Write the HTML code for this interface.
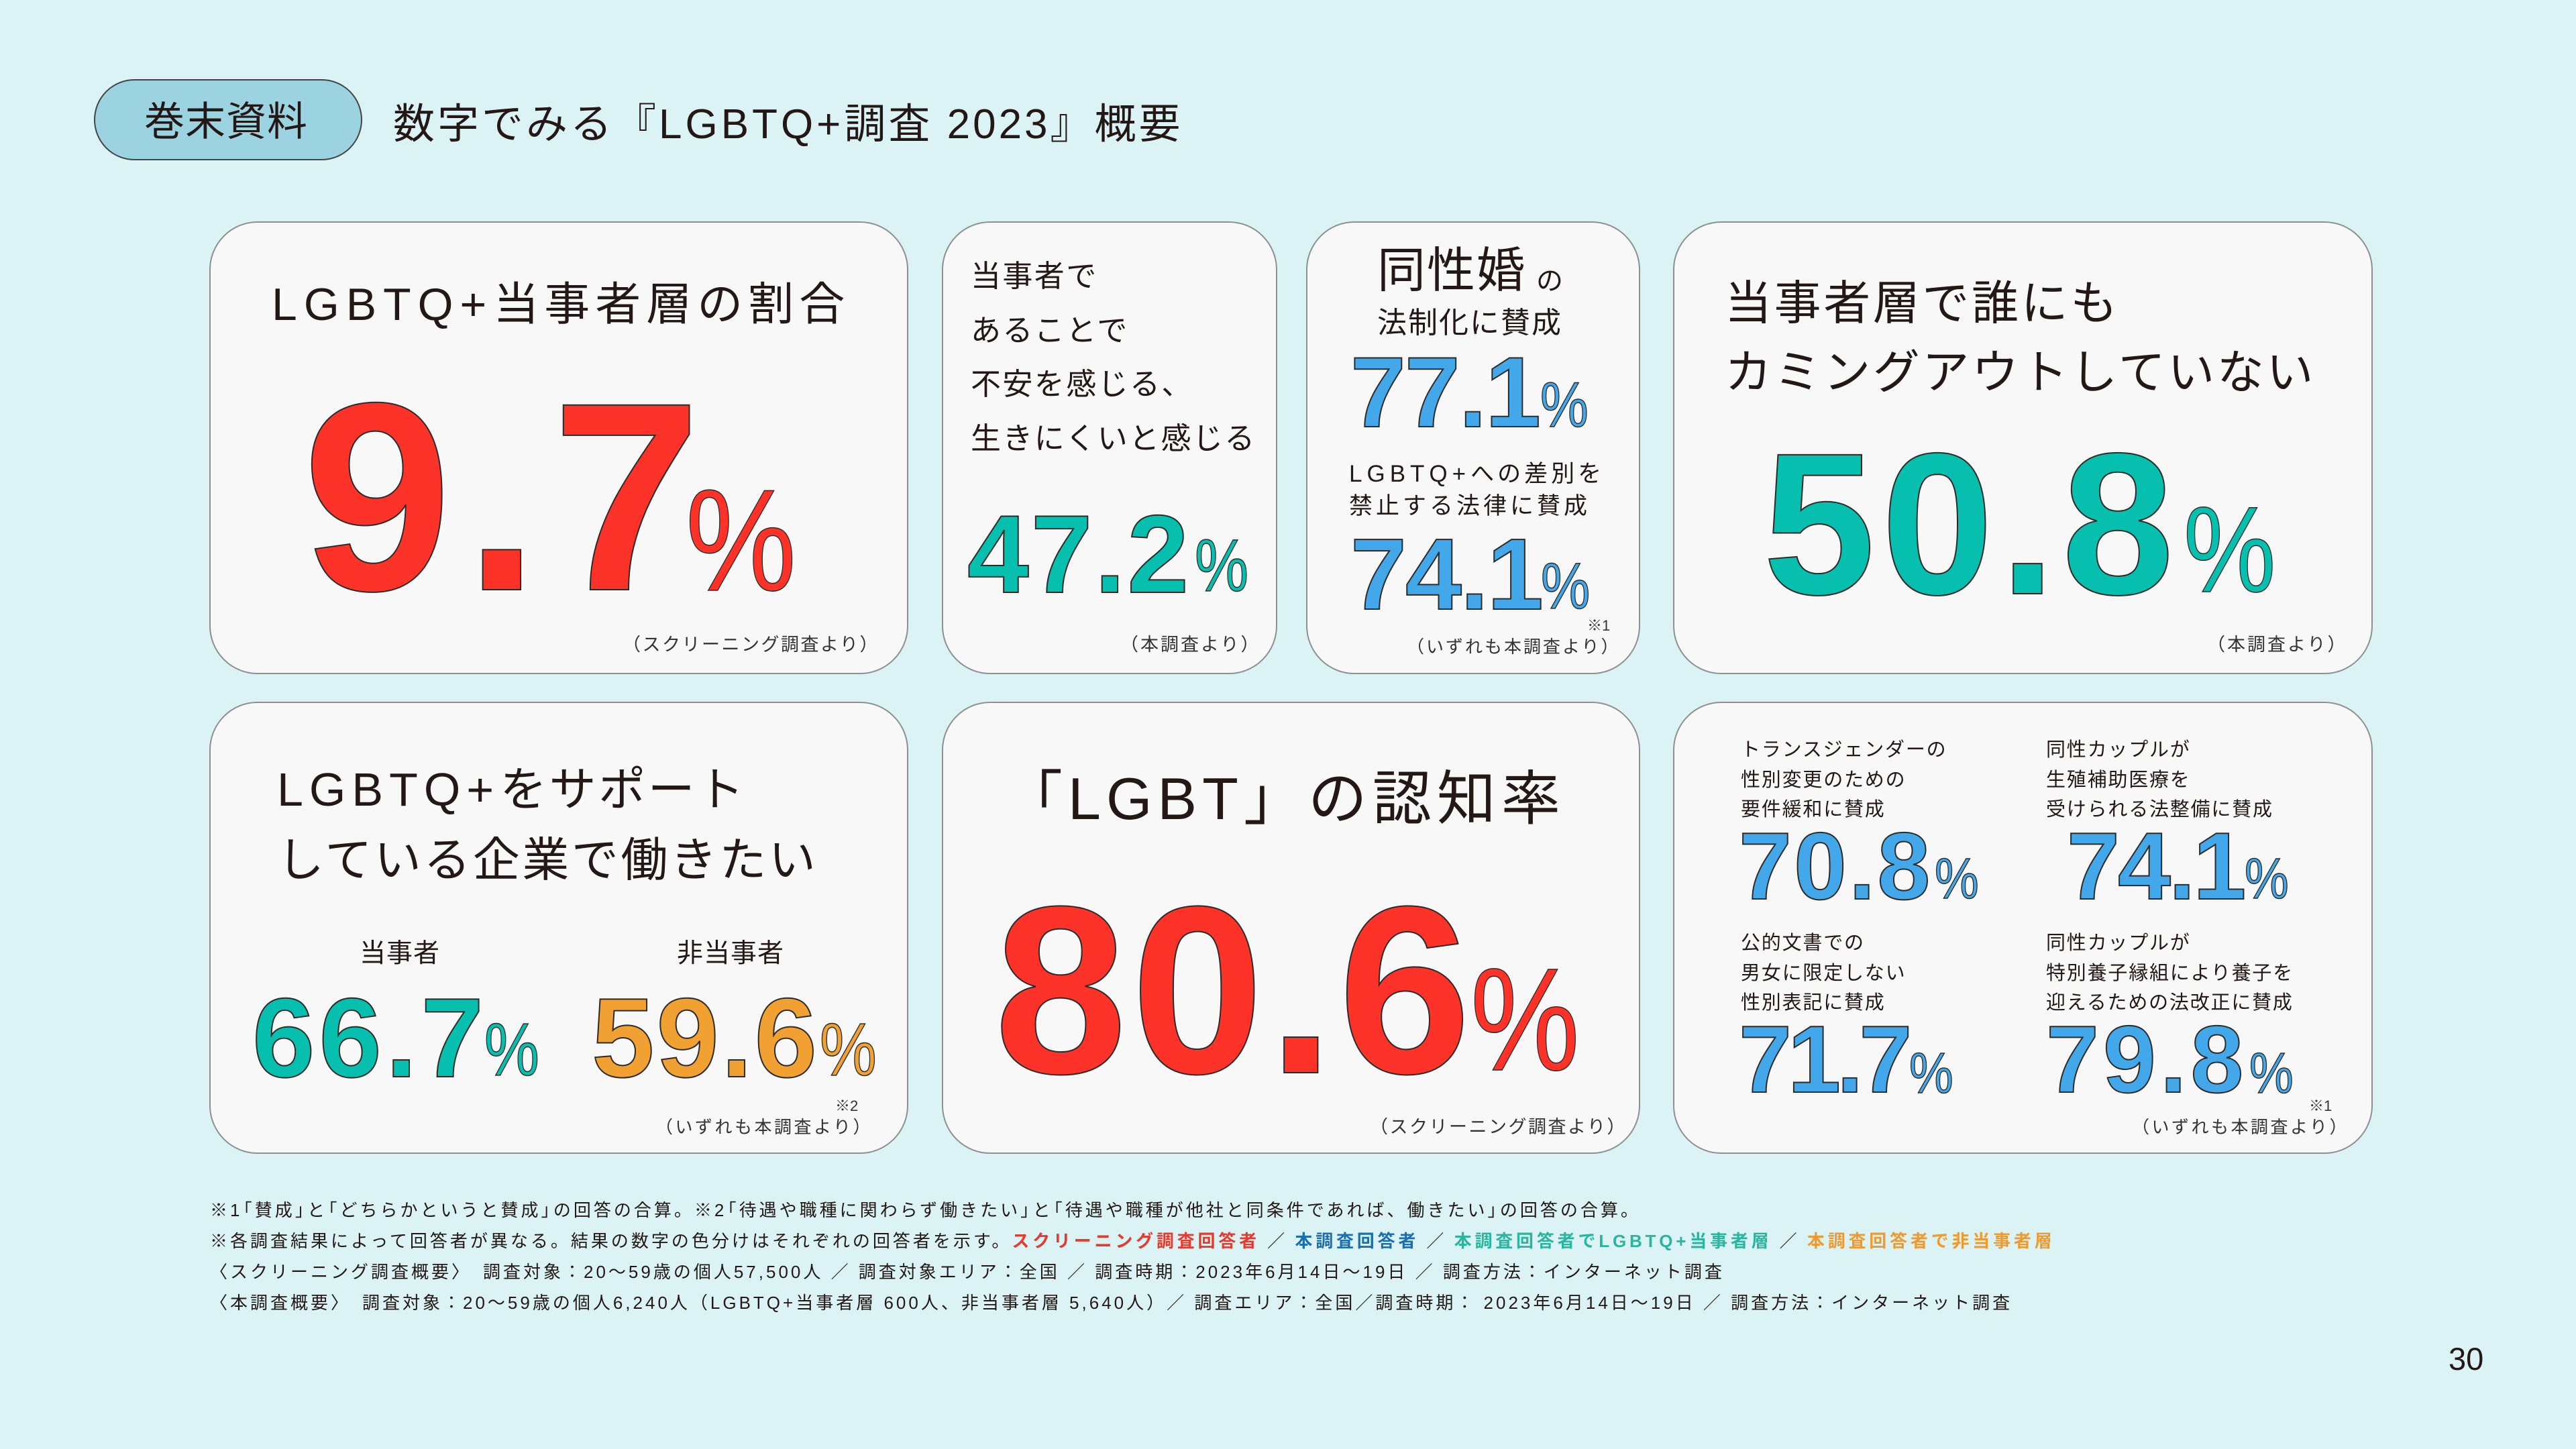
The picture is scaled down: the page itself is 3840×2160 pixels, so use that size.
<!DOCTYPE html>
<html><head><meta charset="utf-8">
<style>
html,body{margin:0;padding:0}
body{width:3840px;height:2160px;background:#dbf3f4;position:relative;overflow:hidden;font-family:"Liberation Sans","Noto Sans CJK JP",sans-serif;color:#231815}
.card{position:absolute;box-sizing:border-box;background:#f8f8f8;border:2px solid #8c9091;border-radius:72px}
.t{position:absolute;white-space:nowrap;line-height:1}
.n{position:absolute;white-space:nowrap;line-height:1;font-family:"Liberation Sans",sans-serif;font-weight:bold;-webkit-text-stroke:2px #2e2a28}
.p{position:absolute;white-space:nowrap;line-height:1;font-family:"Liberation Sans",sans-serif;font-weight:normal;-webkit-text-stroke:1.5px #2e2a28;transform-origin:0 0}
.red{color:#fd3329}.teal{color:#06bfae}.blue{color:#42a8ea}.org{color:#f1a131}
.fn{font-size:27px;color:#333}
.ob{margin-left:-0.45em}.cb{margin-right:-0.45em}
.c b{letter-spacing:4.8px}
</style></head><body>

<div style="position:absolute;left:140px;top:118px;width:400px;height:121px;box-sizing:border-box;border:2px solid #444;border-radius:61px;background:#9bd3e1;display:flex;align-items:center;justify-content:center;font-family:'Liberation Sans','Noto Sans CJK JP',sans-serif;font-size:60px;color:#231815"><span style="position:relative;left:-3px;top:-2px;letter-spacing:1px">巻末資料</span></div>
<div class="t" style="left:586px;top:155px;font-size:62px;letter-spacing:4px">数字でみる『<span style="letter-spacing:5px">LGBTQ+</span>調査 2023』概要</div>

<div class="card" style="left:312px;top:330px;width:1042px;height:675px"></div>
<div class="card" style="left:1404px;top:330px;width:500px;height:675px"></div>
<div class="card" style="left:1947px;top:330px;width:498px;height:675px"></div>
<div class="card" style="left:2494px;top:330px;width:1043px;height:675px"></div>
<div class="card" style="left:312px;top:1046px;width:1042px;height:674px"></div>
<div class="card" style="left:1404px;top:1046px;width:1041px;height:674px"></div>
<div class="card" style="left:2494px;top:1046px;width:1043px;height:674px"></div>

<!-- Card 1 -->
<div class="t" style="left:405px;top:420px;font-size:68px;letter-spacing:8px"><span style="letter-spacing:10px">LGBTQ+</span>当事者層の割合</div>
<div class="n red" style="left:451px;top:541px;font-size:400px;letter-spacing:19px">9.7</div>
<div class="p red" style="left:1022px;top:697px;font-size:216px;transform:scaleX(0.86)">%</div>
<div class="t fn" style="left:928px;top:948px;letter-spacing:2.5px">（スクリーニング調査より）</div>

<!-- Card 2 -->
<div class="t" style="left:1447px;top:372px;font-size:45px;letter-spacing:2.4px;line-height:80.5px">当事者で<br>あることで<br>不安を感じる、<br>生きにくいと感じる</div>
<div class="n teal" style="left:1442px;top:744px;font-size:165px;letter-spacing:3px">47.2</div>
<div class="p teal" style="left:1781px;top:789px;font-size:110px;transform:scaleX(0.82)">%</div>
<div class="t fn" style="left:1670px;top:948px;letter-spacing:3px">（本調査より）</div>

<!-- Card 3 -->
<div class="t" style="left:2053px;top:368px;font-size:72px;letter-spacing:2px">同性婚</div>
<div class="t" style="left:2290px;top:399px;font-size:40px">の</div>
<div class="t" style="left:2053px;top:460px;font-size:44px;letter-spacing:2px">法制化に賛成</div>
<div class="n blue" style="left:2013px;top:510px;font-size:149px;letter-spacing:-2px">77.1</div>
<div class="p blue" style="left:2296px;top:557px;font-size:95px;transform:scaleX(0.85)">%</div>
<div class="t" style="left:2011px;top:683px;font-size:35px;letter-spacing:5px;line-height:48px"><span style="letter-spacing:7px">LGBTQ+</span>への差別を<br>禁止する法律に賛成</div>
<div class="n blue" style="left:2013px;top:780px;font-size:151px;letter-spacing:-2px">74.1</div>
<div class="p blue" style="left:2297px;top:825px;font-size:97px;transform:scaleX(0.85)">%</div>
<div class="t" style="left:2366px;top:922px;font-size:22px;color:#333">※1</div>
<div class="t" style="left:2097px;top:951px;font-size:26px;letter-spacing:3px;color:#333">（いずれも本調査より）</div>

<!-- Card 4 -->
<div class="t" style="left:2571px;top:401px;font-size:70px;letter-spacing:3.6px;line-height:102.5px">当事者層で誰にも<br>カミングアウトしていない</div>
<div class="n teal" style="left:2628px;top:631px;font-size:301px;letter-spacing:9px">50.8</div>
<div class="p teal" style="left:3255px;top:728px;font-size:182px;transform:scaleX(0.85)">%</div>
<div class="t fn" style="left:3290px;top:948px;letter-spacing:3px">（本調査より）</div>

<!-- Card 5 -->
<div class="t" style="left:413px;top:1125px;font-size:70px;letter-spacing:3.5px;line-height:105px"><span style="letter-spacing:9px">LGBTQ+</span>をサポート<br>している企業で働きたい</div>
<div class="t" style="left:536px;top:1402px;font-size:39px;letter-spacing:1px">当事者</div>
<div class="t" style="left:1009px;top:1402px;font-size:39px;letter-spacing:1px">非当事者</div>
<div class="n teal" style="left:376px;top:1463px;font-size:168px;letter-spacing:6px">66.7</div>
<div class="p teal" style="left:722px;top:1510px;font-size:111px;transform:scaleX(0.83)">%</div>
<div class="n org" style="left:882px;top:1463px;font-size:168px;letter-spacing:3px">59.6</div>
<div class="p org" style="left:1222px;top:1510px;font-size:111px;transform:scaleX(0.86)">%</div>
<div class="t" style="left:1245px;top:1638px;font-size:22px;color:#333">※2</div>
<div class="t" style="left:977px;top:1667px;font-size:26px;letter-spacing:3.5px;color:#333">（いずれも本調査より）</div>

<!-- Card 6 -->
<div class="t" style="left:1496px;top:1147px;font-size:88px;letter-spacing:8px">「LGBT」の認知率</div>
<div class="n red" style="left:1482px;top:1299px;font-size:356px;letter-spacing:6px">80.6</div>
<div class="p red" style="left:2192px;top:1412px;font-size:218px;transform:scaleX(0.84)">%</div>
<div class="t fn" style="left:2042px;top:1667px;letter-spacing:2.5px">（スクリーニング調査より）</div>

<!-- Card 7 -->
<div class="t" style="left:2595px;top:1096px;font-size:29px;letter-spacing:1.8px;line-height:44.7px">トランスジェンダーの<br>性別変更のための<br>要件緩和に賛成</div>
<div class="t" style="left:3050px;top:1096px;font-size:29px;letter-spacing:1.8px;line-height:44.7px">同性カップルが<br>生殖補助医療を<br>受けられる法整備に賛成</div>
<div class="n blue" style="left:2592px;top:1221px;font-size:142px;letter-spacing:3px">70.8</div>
<div class="p blue" style="left:2884px;top:1268px;font-size:85px;transform:scaleX(0.87)">%</div>
<div class="n blue" style="left:3081px;top:1221px;font-size:142px;letter-spacing:-3px">74.1</div>
<div class="p blue" style="left:3346px;top:1268px;font-size:85px;transform:scaleX(0.87)">%</div>
<div class="t" style="left:2595px;top:1384px;font-size:29px;letter-spacing:1.8px;line-height:44.7px">公的文書での<br>男女に限定しない<br>性別表記に賛成</div>
<div class="t" style="left:3050px;top:1384px;font-size:29px;letter-spacing:1.8px;line-height:44.7px">同性カップルが<br>特別養子縁組により養子を<br>迎えるための法改正に賛成</div>
<div class="n blue" style="left:2592px;top:1509px;font-size:142px;letter-spacing:-6px">71.7</div>
<div class="p blue" style="left:2846px;top:1558px;font-size:85px;transform:scaleX(0.87)">%</div>
<div class="n blue" style="left:3050px;top:1509px;font-size:142px;letter-spacing:6px">79.8</div>
<div class="p blue" style="left:3353px;top:1558px;font-size:85px;transform:scaleX(0.87)">%</div>
<div class="t" style="left:3442px;top:1638px;font-size:22px;color:#333">※1</div>
<div class="t" style="left:3178px;top:1667px;font-size:26px;letter-spacing:3.5px;color:#333">（いずれも本調査より）</div>

<!-- Footnotes -->
<div class="t c" style="left:313px;top:1781px;font-size:26px;letter-spacing:4px;line-height:46px;color:#231815">※1<span class="ob">「</span>賛成<span class="cb">」</span>と<span class="ob">「</span>どちらかというと賛成<span class="cb">」</span>の回答の合算。※2<span class="ob">「</span>待遇や職種に関わらず働きたい<span class="cb">」</span>と<span class="ob">「</span>待遇や職種が他社と同条件であれば、働きたい<span class="cb">」</span>の回答の合算。<br>※各調査結果によって回答者が異なる。結果の数字の色分けはそれぞれの回答者を示す。<b style="color:#e53a2e">スクリーニング調査回答者</b> ／ <b style="color:#1a6fb0">本調査回答者</b> ／ <b style="color:#2bb5a0">本調査回答者でLGBTQ+当事者層</b> ／ <b style="color:#ef9a30">本調査回答者で非当事者層</b><br>〈スクリーニング調査概要〉　調査対象：20～59歳の個人57,500人 ／ 調査対象エリア：全国 ／ 調査時期：2023年6月14日～19日 ／ 調査方法：インターネット調査<br>〈本調査概要〉　調査対象：20～59歳の個人6,240人（LGBTQ+当事者層 600人、非当事者層 5,640人）／ 調査エリア：全国／調査時期： 2023年6月14日～19日 ／ 調査方法：インターネット調査</div>

<div class="t" style="left:3650px;top:2002px;font-size:47px;font-family:'Liberation Sans',sans-serif;color:#231815">30</div>
</body></html>
